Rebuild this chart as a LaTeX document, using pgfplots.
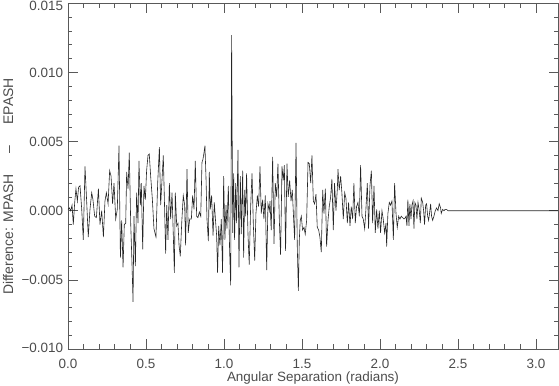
\documentclass[border=0pt]{standalone}
\usepackage{fontspec}
\setmainfont{Liberation Sans}
\usepackage{pgfplots}
\pgfplotsset{compat=1.18}
\begin{document}
\begin{tikzpicture}
\begin{axis}[
  name=ax,
  scale only axis,
  width=490bp, height=345.7bp,
  xmin=0, xmax=3.14159, ymin=-0.010, ymax=0.015,
  xtick={0,0.5,1,1.5,2,2.5,3},
  xticklabels={0.0,0.5,1.0,1.5,2.0,2.5,3.0},
  ytick={-0.01,-0.005,0,0.005,0.01,0.015},
  yticklabels={\raisebox{1.5bp}[9.7bp][0bp]{−0.010},−0.005,0.000,0.005,0.010,
    \raisebox{-2.5bp}[9.7bp][0bp]{0.015}},
  scaled x ticks=false, scaled y ticks=false,
  minor x tick num=4, minor y tick num=4,
  tick align=inside,
  major tick length=9.5bp, minor tick length=4.5bp,
  axis line style={black!65, line width=0.6bp},
  every tick/.style={black!65, line width=0.6bp},
  tick label style={font=\fontsize{13.5}{16}\selectfont, text=black!70},
  xticklabel style={anchor=base, yshift=-19bp},
  yticklabel style={anchor=east, inner sep=0pt, xshift=-4.7bp},
  label style={font=\fontsize{13.5}{16}\selectfont, text=black!70},
  xlabel={Angular Separation (radians)},
  ylabel={Difference: MPASH\hspace{1.5em}–\hspace{1.5em}EPASH},
  xlabel style={at={(axis description cs:0.5,-0.0946)}, anchor=base, inner sep=0pt},
  ylabel style={at={(axis description cs:-0.112,0.47)}, anchor=base, inner sep=0pt,
    font=\fontsize{14}{16}\selectfont},
]
% MPASH - EPASH difference vs angular separation
\addplot[black!85, line width=0.6bp] coordinates {
  (0.000,0.0001) (0.009,0.0002) (0.017,0.0000) (0.026,0.0004) (0.034,-0.0010)
  (0.043,0.0006) (0.051,0.0016) (0.060,0.0007) (0.068,0.0017) (0.077,0.0018)
  (0.088,0.0001) (0.098,-0.0021) (0.109,0.0032) (0.120,0.0006) (0.130,-0.0019)
  (0.141,0.0001) (0.152,0.0013) (0.160,0.0008) (0.171,-0.0004) (0.182,-0.0005)
  (0.195,0.0016) (0.205,-0.0010) (0.216,0.0000) (0.227,-0.0019) (0.237,0.0007)
  (0.246,0.0013) (0.257,0.0005) (0.267,0.0029) (0.276,0.0025) (0.286,0.0005)
  (0.295,0.0020) (0.306,-0.0006) (0.316,0.0001) (0.327,0.0047) (0.336,-0.0034)
  (0.344,-0.0007) (0.353,-0.0041) (0.361,-0.0010) (0.370,-0.0009) (0.376,0.0028)
  (0.385,0.0016) (0.393,0.0042) (0.402,-0.0009) (0.410,-0.0037) (0.417,-0.0066)
  (0.423,-0.0004) (0.432,-0.0040) (0.440,0.0013) (0.449,-0.0009) (0.455,0.0036)
  (0.464,0.0004) (0.470,0.0020) (0.479,-0.0028) (0.487,0.0018) (0.496,0.0008)
  (0.504,0.0029) (0.513,0.0040) (0.521,0.0041) (0.530,0.0025) (0.541,0.0008)
  (0.551,-0.0013) (0.564,-0.0019) (0.575,0.0020) (0.586,0.0046) (0.594,0.0004)
  (0.603,0.0023) (0.611,0.0040) (0.618,0.0008) (0.626,-0.0031) (0.633,0.0004)
  (0.641,-0.0021) (0.650,0.0020) (0.658,-0.0006) (0.667,0.0013) (0.675,-0.0017)
  (0.682,-0.0045) (0.688,0.0013) (0.697,-0.0011) (0.705,-0.0009) (0.712,-0.0025)
  (0.720,-0.0033) (0.729,-0.0009) (0.739,0.0011) (0.748,0.0004) (0.754,-0.0025)
  (0.763,0.0030) (0.771,-0.0016) (0.780,-0.0006) (0.791,-0.0006) (0.799,0.0011)
  (0.808,0.0001) (0.816,0.0036) (0.825,-0.0004) (0.833,-0.0005) (0.842,-0.0001)
  (0.851,-0.0004) (0.859,0.0035) (0.865,0.0037) (0.872,0.0042) (0.878,0.0047)
  (0.885,0.0023) (0.891,-0.0006) (0.900,-0.0022) (0.906,0.0028) (0.912,0.0001)
  (0.921,0.0011) (0.930,-0.0018) (0.938,0.0006) (0.947,-0.0009) (0.953,-0.0018)
  (0.959,-0.0045) (0.966,-0.0011) (0.974,-0.0025) (0.983,-0.0006) (0.991,-0.0045)
  (0.998,0.0025) (1.006,-0.0021) (1.013,0.0004) (1.019,-0.0013) (1.028,0.0018)
  (1.036,-0.0028) (1.043,-0.0054) (1.049,0.0127) (1.056,-0.0016) (1.062,0.0027)
  (1.068,-0.0021) (1.075,0.0020) (1.081,-0.0009) (1.090,0.0044) (1.096,-0.0041)
  (1.105,0.0025) (1.111,-0.0017) (1.120,0.0029) (1.126,-0.0034) (1.133,0.0015)
  (1.139,-0.0004) (1.145,0.0027) (1.154,-0.0017) (1.162,-0.0039) (1.171,0.0003)
  (1.180,0.0027) (1.188,-0.0009) (1.197,-0.0036) (1.205,-0.0002) (1.214,0.0011)
  (1.222,0.0003) (1.231,0.0032) (1.239,-0.0002) (1.248,0.0008) (1.256,-0.0006)
  (1.265,0.0011) (1.274,-0.0043) (1.282,0.0005) (1.291,0.0000) (1.295,0.0007)
  (1.303,-0.0014) (1.312,0.0039) (1.321,-0.0024) (1.329,0.0020) (1.338,0.0010)
  (1.346,0.0034) (1.355,-0.0007) (1.363,-0.0032) (1.372,0.0032) (1.380,0.0022)
  (1.387,0.0033) (1.395,-0.0029) (1.404,0.0034) (1.412,0.0010) (1.421,0.0022)
  (1.430,0.0007) (1.438,0.0015) (1.447,-0.0007) (1.453,-0.0021) (1.462,0.0049)
  (1.470,-0.0026) (1.477,-0.0058) (1.483,-0.0021) (1.489,-0.0007) (1.496,-0.0004)
  (1.504,-0.0014) (1.513,-0.0012) (1.521,-0.0017) (1.530,-0.0007) (1.539,0.0035)
  (1.547,0.0034) (1.556,0.0020) (1.564,0.0040) (1.573,0.0007) (1.581,0.0005)
  (1.590,0.0012) (1.598,-0.0012) (1.607,-0.0014) (1.615,-0.0019) (1.624,-0.0030)
  (1.633,0.0015) (1.641,-0.0002) (1.650,0.0016) (1.658,-0.0026) (1.667,-0.0007)
  (1.675,0.0003) (1.684,0.0010) (1.692,0.0023) (1.701,-0.0014) (1.709,0.0020)
  (1.718,0.0000) (1.727,0.0016) (1.731,0.0030) (1.739,0.0015) (1.748,0.0025)
  (1.756,0.0013) (1.765,-0.0006) (1.774,0.0013) (1.782,0.0009) (1.791,-0.0009)
  (1.799,0.0006) (1.808,-0.0011) (1.816,0.0003) (1.825,-0.0006) (1.833,0.0020)
  (1.842,-0.0009) (1.850,0.0003) (1.859,0.0006) (1.868,-0.0004) (1.876,0.0033)
  (1.885,-0.0004) (1.893,-0.0006) (1.902,-0.0013) (1.910,0.0001) (1.919,0.0020)
  (1.927,-0.0013) (1.936,0.0018) (1.945,0.0029) (1.953,-0.0009) (1.962,0.0018)
  (1.970,-0.0016) (1.979,0.0001) (1.987,-0.0013) (1.996,0.0000) (2.004,-0.0016)
  (2.013,0.0000) (2.021,-0.0006) (2.030,-0.0016) (2.039,-0.0009) (2.043,-0.0026)
  (2.051,-0.0002) (2.060,0.0006) (2.068,0.0004) (2.077,0.0007) (2.086,-0.0021)
  (2.094,0.0020) (2.103,-0.0002) (2.111,-0.0012) (2.120,-0.0004) (2.128,-0.0006)
  (2.137,-0.0004) (2.145,-0.0005) (2.154,-0.0006) (2.163,-0.0005) (2.167,-0.0004)
  (2.173,-0.0011) (2.179,0.0008) (2.186,-0.0011) (2.192,0.0005) (2.199,-0.0006)
  (2.205,0.0004) (2.212,0.0007) (2.218,-0.0013) (2.224,0.0006) (2.231,0.0004)
  (2.237,-0.0006) (2.244,0.0006) (2.252,0.0000) (2.259,-0.0009) (2.265,0.0009)
  (2.274,0.0006) (2.280,0.0000) (2.286,-0.0010) (2.293,0.0004) (2.299,0.0005)
  (2.306,-0.0004) (2.312,-0.0007) (2.319,-0.0001) (2.325,0.0005) (2.331,-0.0004)
  (2.338,-0.0007) (2.346,-0.0004) (2.355,0.0000) (2.363,0.0002) (2.372,0.0000)
  (2.380,0.0005) (2.389,0.0002) (2.393,-0.0002) (2.402,0.0001) (2.410,0.0000)
  (2.419,0.0001) (2.427,0.0001) (2.436,0.0000) (2.445,0.0000) (3.1416,0.0000)
};
\end{axis}
\pgfresetboundingbox
\path[use as bounding box] ([xshift=-68bp,yshift=-37bp]ax.south west)
  rectangle ([xshift=1bp,yshift=3.3bp]ax.north east);
\end{tikzpicture}
\end{document}
